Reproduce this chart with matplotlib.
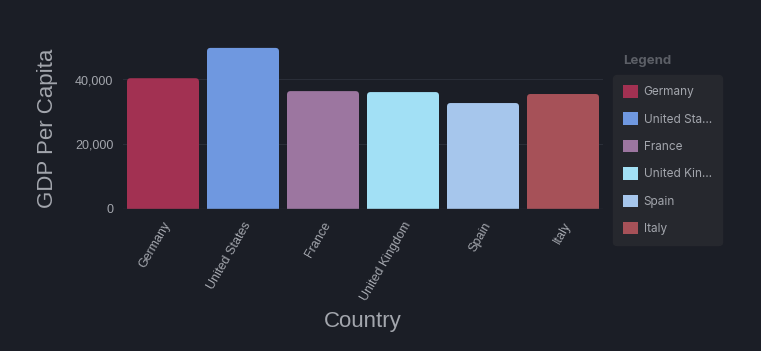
import matplotlib
matplotlib.use("Agg")
import matplotlib.pyplot as plt
import matplotlib.transforms as mtransforms
from matplotlib.patches import Patch, FancyBboxPatch

countries = ["Germany", "United States", "France", "United Kingdom", "Spain", "Italy"]
legend_labels = ["Germany", "United Sta…", "France", "United Kin…", "Spain", "Italy"]
gdp = [40400, 49800, 36400, 36100, 32700, 35500]
colors = ["#a23152", "#6f98e0", "#9c76a0", "#a2e0f5", "#a6c6ec", "#a65158"]
yticks = [0, 20000, 40000]

bg = "#1b1e26"
txt = "#a3a6ad"
plt.rcParams["font.family"] = ["Liberation Sans", "DejaVu Sans"]
fig = plt.figure(figsize=(7.61, 3.51), dpi=100, facecolor=bg)
ax_w_px, ax_h_px = 480, 208.5 - 47.25
ax = fig.add_axes([123/761, 1-208.5/351, ax_w_px/761, ax_h_px/351])
ax.set_facecolor(bg)

ymax = 50000
x = list(range(len(countries)))
bars = ax.bar(x, gdp, width=0.9, color=colors, zorder=3)
ax.set_xlim(-0.5, len(countries)-0.5)
ax.set_ylim(0, ymax)

# rounded tops
aspect = (ymax / ax_h_px) / (len(countries) / ax_w_px)
r = 3.5 / (ax_w_px / len(countries))
for b in bars:
    bx, by = b.get_xy()
    w, h = b.get_width(), b.get_height()
    off = r * aspect
    p = FancyBboxPatch((bx, by - off), w, h + off,
                       boxstyle=f"round,pad=0,rounding_size={r}",
                       mutation_aspect=aspect, facecolor=b.get_facecolor(),
                       edgecolor="none", zorder=3, clip_on=True)
    ax.add_patch(p)
    b.set_visible(False)

ax.set_yticks(yticks)
ax.set_yticklabels([f"{v:,}" for v in yticks], fontsize=9, color=txt)
ax.set_xticks(x)
ax.set_xticklabels(countries, rotation=60, ha="right", rotation_mode="anchor",
                   fontsize=9, color=txt)
shift = mtransforms.ScaledTranslation(-5/100, 0, fig.dpi_scale_trans)
for lbl in ax.get_xticklabels():
    lbl.set_transform(lbl.get_transform() + shift)
ax.tick_params(length=0, pad=7)
ax.tick_params(axis="x", pad=8)
for s in ax.spines.values():
    s.set_visible(False)
ax.axhline(0, color="#2e323c", lw=1, zorder=4)
ax.grid(axis="y", color="#2a2e38", lw=0.8, zorder=0)
ax.set_axisbelow(True)

ax.set_ylabel("GDP Per Capita", fontsize=16, color=txt, labelpad=12)
ax.set_xlabel("Country", fontsize=16, color=txt, labelpad=6)

handles = [Patch(facecolor=c, edgecolor="none") for c in colors]
leg = fig.legend(handles, legend_labels, loc="upper left",
                 bbox_to_anchor=(613/761, 1-75/351), frameon=True,
                 facecolor="#26282e", edgecolor="#26282e",
                 prop={"family": ["Inter", "DejaVu Sans"], "size": 8.5},
                 labelcolor=txt, handlelength=1.25, handleheight=1.25,
                 labelspacing=1.2, borderpad=0.85, handletextpad=0.5,
                 borderaxespad=0, fancybox=True)
leg.get_frame().set_boxstyle("round,pad=0,rounding_size=0.3")
leg.get_frame().set_alpha(1)
fig.text(623/761, 1-61/351, "Legend", fontsize=9.5, fontweight="bold",
         color="#5c5f66", va="center", ha="left", family=["Inter", "DejaVu Sans"])

fig.savefig("out.png", dpi=100, facecolor=bg)
